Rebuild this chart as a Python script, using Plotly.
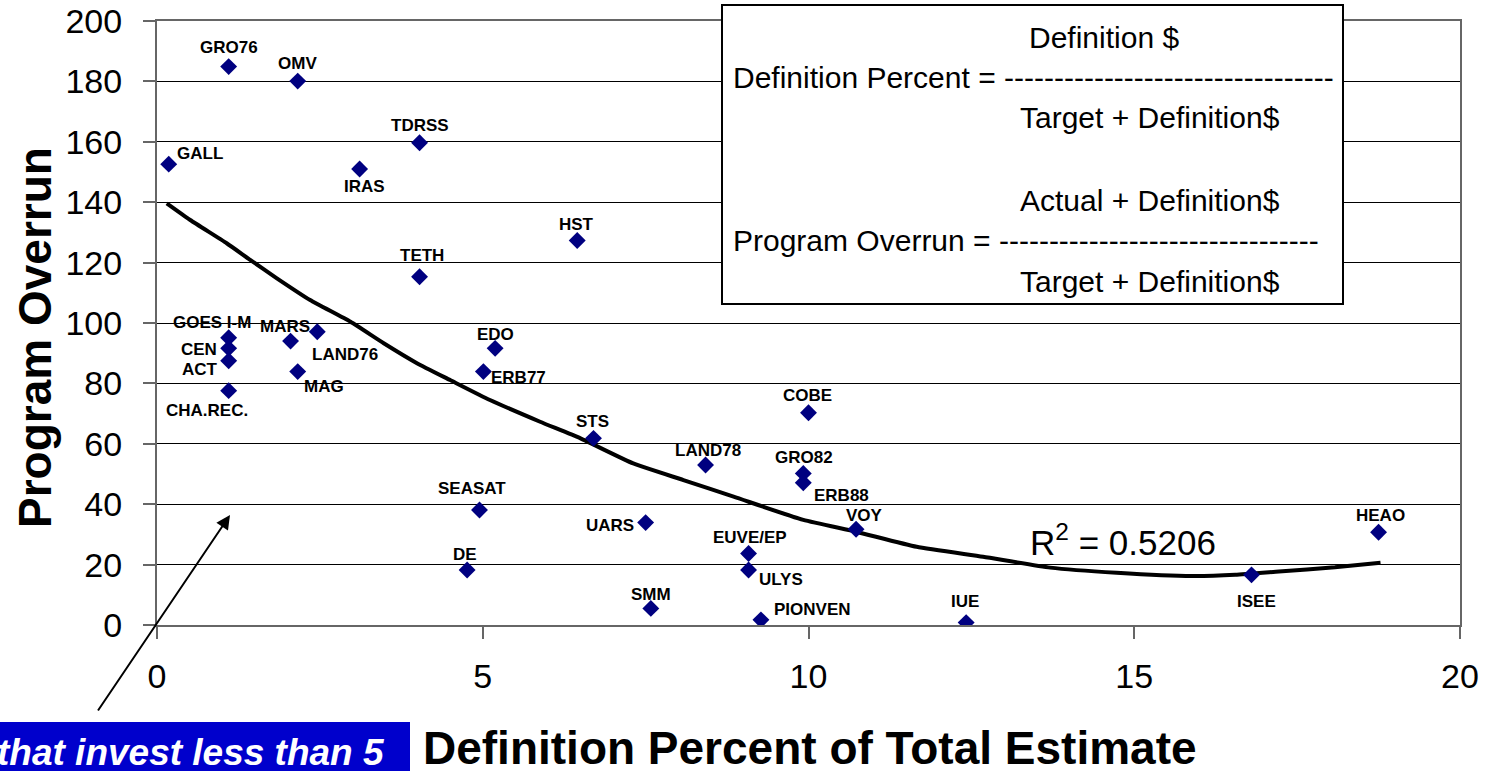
import plotly.graph_objects as go

# ---------------- data ----------------
programs = ["GALL", "GRO76", "OMV", "IRAS", "TDRSS", "HST", "TETH",
            "GOES I-M", "CEN", "ACT", "CHA.REC.", "MARS", "LAND76", "MAG",
            "EDO", "ERB77", "COBE", "STS", "LAND78", "GRO82", "ERB88", "VOY",
            "SEASAT", "UARS", "EUVE/EP", "ULYS", "DE", "SMM", "PIONVEN",
            "IUE", "ISEE", "HEAO"]
definition_pct = [0.18, 1.10, 2.16, 3.11, 4.03, 6.45, 4.03,
                  1.10, 1.10, 1.10, 1.10, 2.05, 2.46, 2.16,
                  5.19, 5.01, 10.00, 6.70, 8.42, 9.92, 9.92, 10.73,
                  4.95, 7.50, 9.08, 9.08, 4.76, 7.58, 9.27,
                  12.42, 16.80, 18.75]
program_overrun = [152.6, 184.9, 180.1, 151.0, 159.7, 127.3, 115.3,
                   95.1, 91.6, 87.5, 77.6, 94.0, 97.1, 83.9,
                   91.6, 83.9, 70.3, 61.8, 53.0, 50.2, 47.1, 31.7,
                   38.1, 33.9, 23.7, 18.2, 18.2, 5.5, 1.7,
                   0.8, 16.6, 30.7]

# trend line
trend_x = [0.15, 0.51, 1.07, 1.43, 1.84, 2.35, 2.97, 3.48, 3.99, 4.50, 5.11,
           5.88, 6.50, 7.31, 8.08, 8.85, 9.92, 10.73, 11.66, 12.68, 13.71,
           14.73, 15.89, 16.55, 17.22, 18.08, 18.78]
trend_y = [139.6, 134.1, 126.4, 120.9, 114.8, 107.6, 100.4, 93.3, 86.7, 81.1,
           74.5, 67.3, 61.8, 53.5, 48.0, 42.5, 34.8, 30.9, 25.9, 22.6, 19.0,
           17.3, 16.2, 16.6, 17.7, 19.1, 20.6]

x_ticks = [0, 5, 10, 15, 20]
y_ticks = [0, 20, 40, 60, 80, 100, 120, 140, 160, 180, 200]

r_squared_text = "R<sup>2</sup> = 0.5206"
x_title = "Definition Percent of Total Estimate"
y_title = "Program Overrun"
banner_text = "that invest less than 5"
formula_lines = [
    "Definition $",
    "Definition Percent = " + "-" * 33,
    "Target + Definition$",
    "Actual + Definition$",
    "Program Overrun = " + "-" * 32,
    "Target + Definition$",
]

# ---------------- styles / positions ----------------
# label offsets from the marker centre in pixels (dx right, dy down)
label_offsets = {
    "GALL": (31, -11), "GRO76": (0, -19), "OMV": (0, -18), "IRAS": (5, 18),
    "TDRSS": (0, -17), "HST": (-1, -16), "TETH": (2, -21),
    "GOES I-M": (-17, -15), "CEN": (-30, 1), "ACT": (-29, 9),
    "CHA.REC.": (-22, 20), "MARS": (-6, -15), "LAND76": (28, 23),
    "MAG": (26, 15), "EDO": (0, -14), "ERB77": (35, 6), "COBE": (-1, -17),
    "STS": (-1, -17), "LAND78": (2, -14), "GRO82": (1, -16),
    "ERB88": (38, 13), "VOY": (8, -14), "SEASAT": (-7, -21),
    "UARS": (-36, 3), "EUVE/EP": (1, -16), "ULYS": (32, 9), "DE": (-2, -16),
    "SMM": (0, -14), "PIONVEN": (52, -10), "IUE": (-1, -21),
    "ISEE": (5, 27), "HEAO": (2, -17),
}

FONT = "Arial, Liberation Sans, sans-serif"
L, R, T, B = 157, 25, 21, 146
W, H = 1485, 771
PW, PH = W - L - R, H - T - B


def px_x(px):
    return (px - L) / PW


def px_y(py):
    return (H - B - py) / PH


fig = go.Figure()

fig.add_trace(go.Scatter(
    x=trend_x, y=trend_y, mode="lines",
    line=dict(color="black", width=4, shape="spline", smoothing=0.5),
    hoverinfo="skip", showlegend=False))

fig.add_trace(go.Scatter(
    x=definition_pct, y=program_overrun, mode="markers",
    marker=dict(symbol="diamond", size=13, color="#000080"),
    text=programs, showlegend=False))

annotations = []
for name, xv, yv in zip(programs, definition_pct, program_overrun):
    dx, dy = label_offsets[name]
    annotations.append(dict(
        x=xv, y=yv, xref="x", yref="y", text=name, showarrow=False,
        xshift=dx, yshift=-dy, xanchor="center", yanchor="middle",
        font=dict(family=FONT, size=17, color="black", weight="bold")))

# axis titles
annotations.append(dict(
    x=px_x(35), y=px_y(338), xref="paper", yref="paper", text=y_title,
    textangle=-90, showarrow=False, xanchor="center", yanchor="middle",
    font=dict(family=FONT, size=46, color="black", weight="bold")))
annotations.append(dict(
    x=px_x(810), y=px_y(748), xref="paper", yref="paper", text=x_title,
    showarrow=False, xanchor="center", yanchor="middle",
    font=dict(family=FONT, size=46, color="black", weight="bold")))

# R squared
annotations.append(dict(
    x=px_x(1028), y=px_y(540), xref="paper", yref="paper",
    text=r_squared_text, showarrow=False, xanchor="left", yanchor="middle",
    font=dict(family=FONT, size=35, color="black")))

# formula box text
formula_pos = [(1027, 38), (731, 78), (1018, 118), (1018, 200), (731, 241),
               (1018, 281)]
for txt, (px, py) in zip(formula_lines, formula_pos):
    annotations.append(dict(
        x=px_x(px), y=px_y(py), xref="paper", yref="paper", text=txt,
        showarrow=False, xanchor="left", yanchor="middle",
        font=dict(family=FONT, size=30, color="black")))

# banner text
annotations.append(dict(
    x=px_x(387), y=px_y(752), xref="paper", yref="paper", text=banner_text,
    showarrow=False, xanchor="right", yanchor="middle",
    font=dict(family=FONT, size=37, color="white", weight="bold",
              style="italic")))

# arrow
annotations.append(dict(
    x=px_x(230), y=px_y(515), xref="paper", yref="paper", text="",
    showarrow=True, ax=-133, ay=197, arrowhead=2, arrowsize=1.4,
    arrowwidth=2, arrowcolor="black"))

shapes = [
    dict(type="rect", xref="paper", yref="paper",
         x0=px_x(722), x1=px_x(1343), y0=px_y(304), y1=px_y(5),
         fillcolor="white", line=dict(color="black", width=2), layer="above"),
    dict(type="rect", xref="paper", yref="paper",
         x0=px_x(-5), x1=px_x(410), y0=px_y(780), y1=px_y(722),
         fillcolor="#0000CC", line=dict(width=0), layer="above"),
]

fig.update_layout(
    width=W, height=H, margin=dict(l=L, r=R, t=T, b=B, autoexpand=False),
    paper_bgcolor="white", plot_bgcolor="white",
    annotations=annotations, shapes=shapes,
    font=dict(family=FONT, color="black"),
)

fig.update_xaxes(
    range=[0, 20], tickvals=x_ticks, showgrid=False, zeroline=False,
    automargin=False,
    showline=True, linecolor="#666666", linewidth=2, mirror=True,
    ticks="outside", ticklen=12, tickwidth=2, tickcolor="#666666",
    tickfont=dict(family=FONT, size=34, color="black"),
    ticklabelstandoff=8)
fig.update_yaxes(
    range=[0, 200], tickvals=y_ticks, showgrid=True, gridcolor="black",
    gridwidth=1, zeroline=False, automargin=False,
    showline=True, linecolor="#666666", linewidth=2, mirror=True,
    ticks="outside", ticklen=12, tickwidth=2, tickcolor="#666666",
    tickfont=dict(family=FONT, size=34, color="black"),
    ticklabelstandoff=14)

fig.write_html(
    "out.html",
    config={"displayModeBar": False},
    post_script="document.body.style.margin='0';"
                "document.body.style.overflow='hidden';")
